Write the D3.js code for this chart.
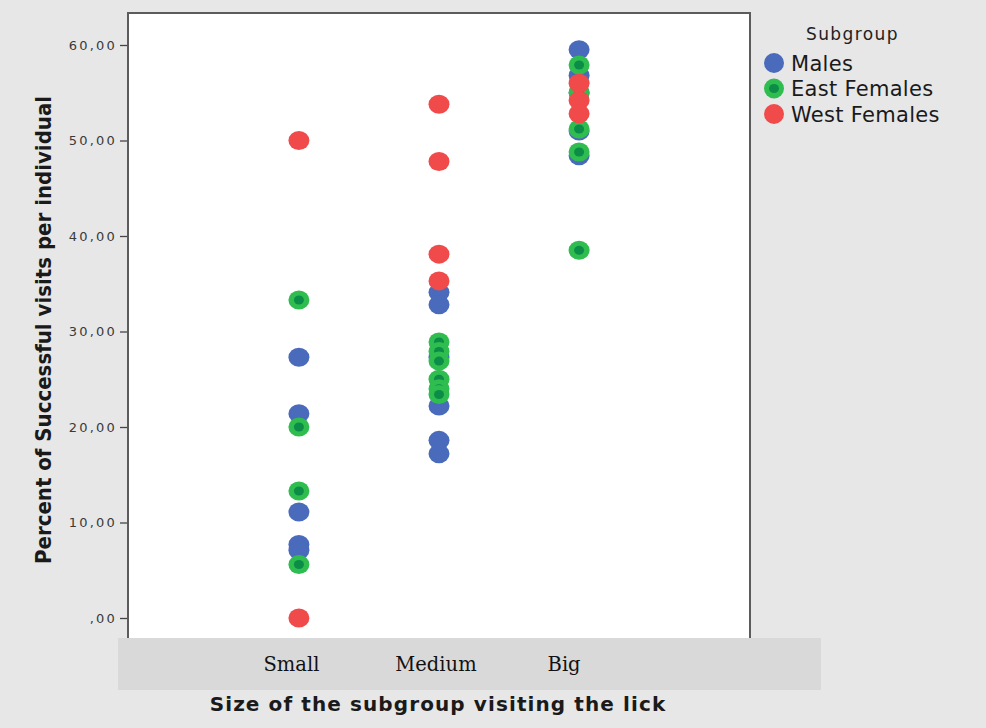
<!DOCTYPE html>
<html>
<head>
<meta charset="utf-8">
<script src="https://cdn.jsdelivr.net/npm/d3@7"></script>
<style>
  html, body { margin: 0; padding: 0; background: #e7e7e7; }
  svg { display: block; }
</style>
</head>
<body>
<svg id="chart" width="986" height="728"></svg>
<script>
// Categories on the x axis and the subgroups in the legend
const categories = ["Small", "Medium", "Big"];
const subgroups = ["Males", "East Females", "West Females"];

// Percent of successful visits per individual, one array per category
const malesValues = [
  [27.3, 21.4, 11.1, 7.7, 7.1],
  [34.1, 32.8, 27.3, 22.2, 18.6, 17.2],
  [59.5, 56.8, 55.0, 51.0, 48.4]
];
const eastFemalesValues = [
  [33.3, 20.0, 13.3, 5.6],
  [28.9, 27.9, 26.9, 25.0, 24.0, 23.4],
  [57.9, 55.0, 51.2, 48.8, 38.5]
];
const westFemalesValues = [
  [50.0, 0.0],
  [53.8, 47.8, 38.1, 35.3],
  [56.0, 54.2, 52.8]
];

const yTicks = [0, 10, 20, 30, 40, 50, 60];

const colors = {
  "Males": "#4a6abb",
  "East Females": "#2fbd50",
  "West Females": "#f04a4a"
};
const greenCore = "#0b8d47";

const svg = d3.select("#chart");

const plot = { left: 128, right: 750, top: 13, bottom: 638 };

const x = d3.scalePoint()
  .domain(categories)
  .range([plot.left, plot.right])
  .padding(1.22);

const y = d3.scaleLinear()
  .domain([0, 60])
  .range([618, 45]);

// White plotting area
svg.append("rect")
  .attr("x", plot.left).attr("y", plot.top)
  .attr("width", plot.right - plot.left)
  .attr("height", plot.bottom - plot.top + 4)
  .attr("fill", "#ffffff");

// Y axis
const yAxis = d3.axisLeft(y)
  .tickValues(yTicks)
  .tickSize(8)
  .tickPadding(3)
  .tickFormat(d => (d === 0 ? "" : d3.format("d")(d)) + ",00");

const yg = svg.append("g")
  .attr("transform", `translate(${plot.left},0)`)
  .call(yAxis);
yg.select(".domain").remove();
yg.selectAll(".tick line").attr("stroke", "#444").attr("stroke-width", 1.3);
yg.selectAll(".tick text")
  .attr("fill", "#3a3a3a")
  .style("font-family", "'DejaVu Sans', Verdana, sans-serif")
  .style("font-size", "13px")
  .style("letter-spacing", "2.2px");

// Points: males first, then east females, west females on top
const series = [
  { name: "Males", values: malesValues },
  { name: "East Females", values: eastFemalesValues },
  { name: "West Females", values: westFemalesValues }
];

const pts = [];
series.forEach(s => {
  s.values.forEach((vals, ci) => {
    vals.forEach(v => pts.push({ group: s.name, cat: categories[ci], value: v }));
  });
});

const marks = svg.append("g");
marks.selectAll("g.pt")
  .data(pts)
  .join("g")
  .attr("class", "pt")
  .attr("transform", d => `translate(${x(d.cat)},${y(d.value)})`)
  .each(function(d) {
    const g = d3.select(this);
    g.append("ellipse")
      .attr("rx", 10.5).attr("ry", 9.5)
      .attr("fill", colors[d.group]);
    if (d.group === "East Females") {
      g.append("ellipse")
        .attr("rx", 5).attr("ry", 4.5)
        .attr("fill", greenCore);
    }
  });

// Frame around the plotting area
svg.append("path")
  .attr("d", `M${plot.left},${plot.bottom} V${plot.top} H${plot.right} V${plot.bottom}`)
  .attr("fill", "none")
  .attr("stroke", "#5c5c5c")
  .attr("stroke-width", 2);

// Category band below the plot; labels sit slightly left of their points
const labelShift = { Small: -7.5, Medium: -3, Big: -15 };

svg.append("rect")
  .attr("x", 118).attr("y", 638)
  .attr("width", 703).attr("height", 52)
  .attr("fill", "#d9d9d9");

svg.append("g")
  .selectAll("text")
  .data(categories)
  .join("text")
  .attr("x", d => x(d) + labelShift[d])
  .attr("y", 671)
  .attr("text-anchor", "middle")
  .attr("fill", "#111")
  .style("font-family", "'DejaVu Serif', serif")
  .style("font-size", "19.5px")
  .text(d => d);

// Axis titles
svg.append("text")
  .attr("x", 438).attr("y", 711)
  .attr("text-anchor", "middle")
  .attr("fill", "#1a1a1a")
  .style("font-family", "'DejaVu Sans', sans-serif")
  .style("font-weight", "bold")
  .style("font-size", "20px")
  .style("letter-spacing", "1.1px")
  .text("Size of the subgroup visiting the lick");

svg.append("text")
  .attr("transform", "translate(51,330) rotate(-90)")
  .attr("text-anchor", "middle")
  .attr("fill", "#1a1a1a")
  .style("font-family", "'DejaVu Sans Condensed', 'DejaVu Sans', sans-serif")
  .style("font-stretch", "condensed")
  .style("font-weight", "bold")
  .style("font-size", "22px")
  .text("Percent of Successful visits per individual");

// Legend
const legend = svg.append("g");
legend.append("text")
  .attr("x", 806).attr("y", 40)
  .attr("fill", "#222")
  .style("font-family", "'DejaVu Sans', sans-serif")
  .style("font-size", "17px")
  .style("letter-spacing", "1.4px")
  .text("Subgroup");

const items = legend.selectAll("g.item")
  .data(subgroups)
  .join("g")
  .attr("class", "item")
  .attr("transform", (d, i) => `translate(774,${63 + i * 25.5})`);
items.append("circle").attr("r", 10).attr("fill", d => colors[d]);
items.filter(d => d === "East Females")
  .append("ellipse").attr("rx", 5).attr("ry", 4.5).attr("fill", greenCore);
items.append("text")
  .attr("x", 17).attr("y", 7.5)
  .attr("fill", "#1a1a1a")
  .style("font-family", "'DejaVu Sans', sans-serif")
  .style("font-size", "21px")
  .style("letter-spacing", "0.3px")
  .text(d => d);
</script>
</body>
</html>
